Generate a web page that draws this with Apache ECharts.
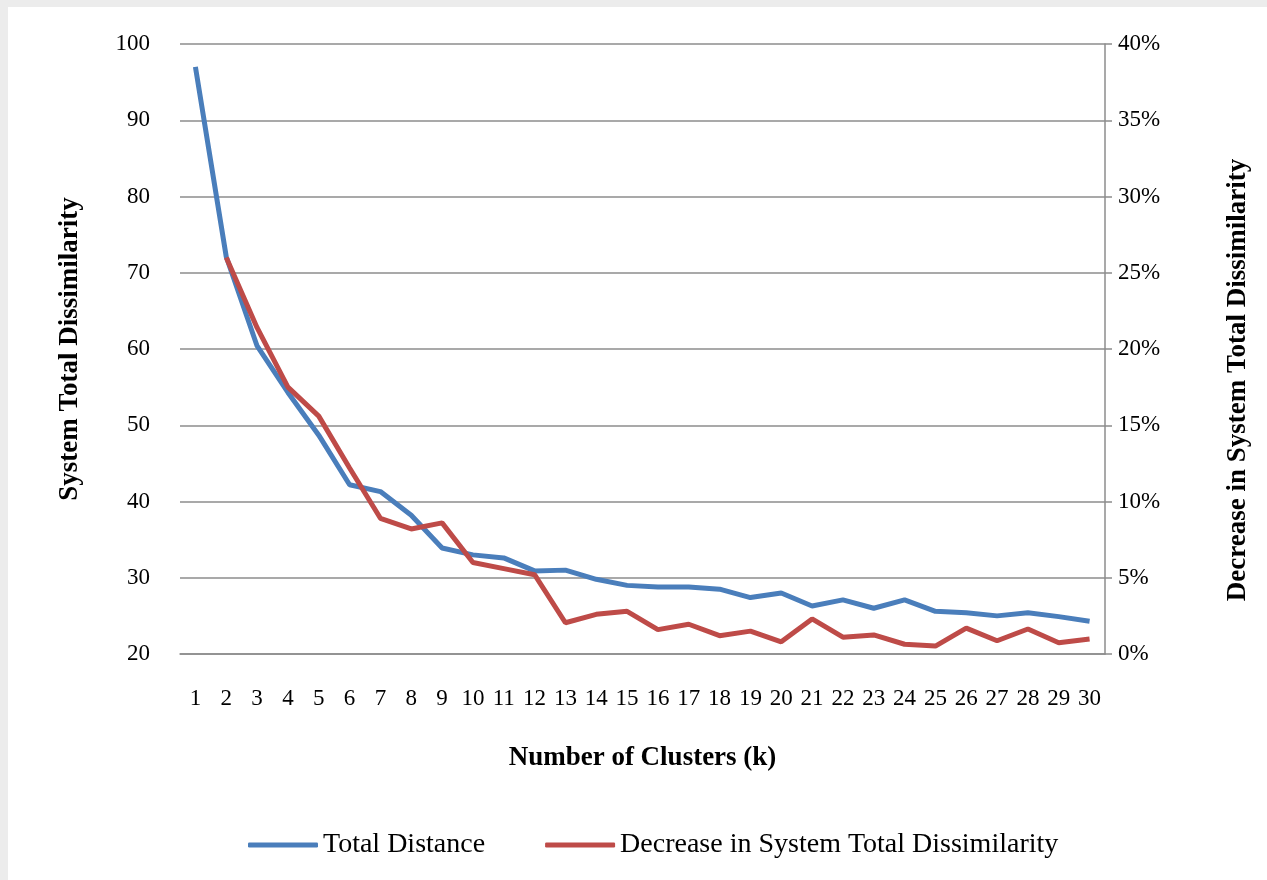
<!DOCTYPE html>
<html>
<head>
<meta charset="utf-8">
<script src="https://cdn.jsdelivr.net/npm/echarts@6/dist/echarts.min.js"></script>
<style>
html,body{margin:0;padding:0;background:#ffffff;}
#chart{width:1267px;height:880px;}
</style>
</head>
<body>
<div id="chart"></div>
<script>
const categories = ['1','2','3','4','5','6','7','8','9','10','11','12','13','14','15','16','17','18','19','20','21','22','23','24','25','26','27','28','29','30'];
const totalDistance = [97.0,72.1,60.4,54.3,48.7,42.2,41.3,38.2,33.9,33.0,32.6,30.9,31.0,29.8,29.0,28.8,28.8,28.5,27.4,28.0,26.3,27.1,26.0,27.1,25.6,25.4,25.0,25.4,24.9,24.3];
const decreasePct = [null,26.0,21.4,17.5,15.6,12.2,8.9,8.2,8.6,6.0,5.6,5.2,2.05,2.6,2.8,1.6,1.95,1.2,1.5,0.8,2.3,1.1,1.25,0.64,0.52,1.7,0.87,1.64,0.74,0.98];
const leftTicks = {min:20, max:100, interval:10};
const rightTicks = {min:0, max:40, interval:5};

const FONT = '"Liberation Serif", "Times New Roman", serif';
const chart = echarts.init(document.getElementById('chart'), null, {renderer:'canvas'});
chart.setOption({
  backgroundColor:'#ffffff',
  animation:false,
  graphic:[
    {type:'rect', left:0, top:0, shape:{width:1267, height:7}, style:{fill:'#ececec'}, silent:true},
    {type:'rect', left:0, top:0, shape:{width:8, height:880}, style:{fill:'#ececec'}, silent:true}
  ],
  grid:{left:180, right:162, top:44, bottom:226, containLabel:false},
  legend:{
    left:243, top:826,
    itemWidth:70, itemHeight:5, itemGap:60,
    icon:'roundRect',
    textStyle:{fontFamily:FONT, fontSize:28, color:'#000000'},
    data:['Total Distance','Decrease in System Total Dissimilarity']
  },
  xAxis:{
    type:'category',
    data:categories,
    boundaryGap:true,
    name:'Number of Clusters (k)',
    nameLocation:'middle',
    nameGap:91,
    nameTextStyle:{fontFamily:FONT, fontSize:27, fontWeight:'bold', color:'#000000', verticalAlign:'top'},
    axisLine:{show:true, lineStyle:{color:'#8c8c8c', width:1.5}},
    axisTick:{show:false},
    axisLabel:{interval:0, margin:33, fontFamily:FONT, fontSize:23, color:'#000000'}
  },
  yAxis:[
    {
      type:'value',
      min:leftTicks.min, max:leftTicks.max, interval:leftTicks.interval,
      name:'System Total Dissimilarity',
      nameLocation:'middle',
      nameGap:96,
      nameRotate:90,
      nameTextStyle:{fontFamily:FONT, fontSize:27, fontWeight:'bold', color:'#000000'},
      axisLine:{show:false},
      axisTick:{show:false},
      axisLabel:{margin:30, fontFamily:FONT, fontSize:23, color:'#000000'},
      splitLine:{show:true, lineStyle:{color:'#8c8c8c', width:1.5}}
    },
    {
      type:'value',
      position:'right',
      min:rightTicks.min, max:rightTicks.max, interval:rightTicks.interval,
      name:'Decrease in System Total Dissimilarity',
      nameLocation:'middle',
      nameGap:120,
      nameRotate:90,
      nameTextStyle:{fontFamily:FONT, fontSize:27, fontWeight:'bold', color:'#000000', padding:[0,62,0,0]},
      axisLine:{show:true, lineStyle:{color:'#8c8c8c', width:1.5}},
      axisTick:{show:true, inside:false, length:7, lineStyle:{color:'#8c8c8c', width:1.5}},
      axisLabel:{margin:13, fontFamily:FONT, fontSize:23, color:'#000000', formatter:'{value}%'},
      splitLine:{show:false}
    }
  ],
  series:[
    {
      name:'Total Distance',
      type:'line',
      data:totalDistance,
      yAxisIndex:0,
      showSymbol:false,
      symbol:'none',
      lineStyle:{color:'#4a7ebb', width:5},
      itemStyle:{color:'#4a7ebb'},
      z:2
    },
    {
      name:'Decrease in System Total Dissimilarity',
      type:'line',
      data:decreasePct,
      yAxisIndex:1,
      showSymbol:false,
      symbol:'none',
      connectNulls:false,
      lineStyle:{color:'#be4b48', width:5},
      itemStyle:{color:'#be4b48'},
      z:3
    }
  ]
});
</script>
</body>
</html>
